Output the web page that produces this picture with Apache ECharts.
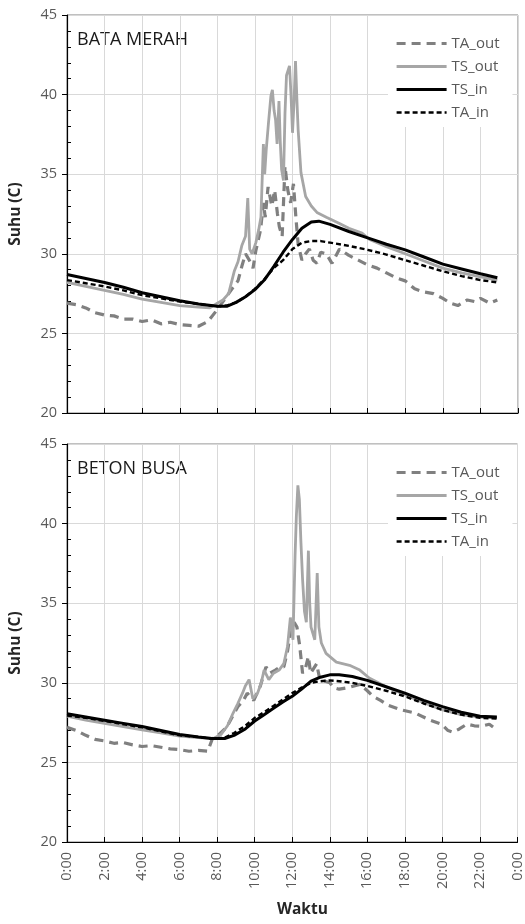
<!DOCTYPE html>
<html>
<head>
<meta charset="utf-8">
<script src="https://cdn.jsdelivr.net/npm/echarts@6/dist/echarts.min.js"></script>
<style>html,body{margin:0;padding:0;background:#fff;}#c{width:525px;height:924px;}</style>
</head>
<body>
<div id="c"></div>
<script>
// ---- Data (hour of day, temperature °C) ----
const seriesNames = ['TA_out', 'TS_out', 'TS_in', 'TA_in'];
const panelTitles = ['BATA MERAH', 'BETON BUSA'];
const xTickHours = [0, 2, 4, 6, 8, 10, 12, 14, 16, 18, 20, 22, 24];
const yTicks = [20, 25, 30, 35, 40, 45];

// BATA MERAH
const bmTAout = [[0,26.9],[0.5,26.8],[1,26.6],[1.5,26.3],[2,26.15],[2.5,26.1],[3,25.9],[3.5,25.9],[4,25.75],[4.5,25.85],[5,25.6],[5.5,25.7],[6,25.55],[6.5,25.5],[7,25.45],[7.5,25.75],[8,26.5],[8.3,27.0],[8.6,27.5],[8.9,28.0],[9.1,28.3],[9.3,29.2],[9.5,30.0],[9.7,29.6],[9.9,29.1],[10.05,30.2],[10.3,31.5],[10.45,33.2],[10.55,32.3],[10.7,34.2],[10.9,33.0],[11.05,34.0],[11.2,32.5],[11.3,31.7],[11.45,31.1],[11.6,35.5],[11.75,34.0],[11.9,33.2],[12.05,34.4],[12.18,32.3],[12.3,30.6],[12.5,29.6],[12.7,30.0],[12.9,30.3],[13.1,29.6],[13.3,29.4],[13.5,30.1],[13.8,30.0],[14.1,29.4],[14.5,30.3],[15,29.9],[15.5,29.6],[16,29.3],[16.5,29.1],[17,28.8],[17.5,28.5],[18,28.3],[18.5,27.8],[19,27.6],[19.5,27.5],[20,27.2],[20.4,26.9],[20.8,26.75],[21.3,27.1],[21.7,27.0],[22,27.2],[22.5,26.9],[22.9,27.1]];
const bmTSout = [[0,28.2],[1,27.95],[2,27.7],[3,27.45],[4,27.15],[5,26.95],[6,26.75],[7,26.65],[7.6,26.6],[8,26.9],[8.3,27.1],[8.6,27.5],[8.9,28.9],[9.1,29.5],[9.3,30.5],[9.5,31.1],[9.62,33.5],[9.72,30.3],[9.85,30.0],[10.05,30.7],[10.2,31.5],[10.32,32.3],[10.45,36.9],[10.52,35.0],[10.6,36.5],[10.72,38.2],[10.85,39.9],[10.93,40.3],[11.02,39.0],[11.1,38.4],[11.18,36.9],[11.28,39.6],[11.35,37.0],[11.42,35.3],[11.52,34.6],[11.6,38.8],[11.68,41.2],[11.76,41.5],[11.84,41.8],[11.92,40.0],[12.0,37.6],[12.08,39.5],[12.16,42.1],[12.24,39.5],[12.3,37.8],[12.45,35.1],[12.7,33.6],[13.0,33.0],[13.3,32.6],[13.8,32.3],[14.5,31.9],[15.0,31.6],[15.7,31.3],[16.1,30.9],[17,30.45],[18,30.0],[19,29.55],[20,29.1],[21,28.8],[22,28.55],[22.9,28.35]];
const bmTSin = [[0,28.7],[1,28.45],[2,28.2],[3,27.9],[4,27.55],[5,27.3],[6,27.05],[7,26.85],[8,26.7],[8.5,26.7],[9,26.95],[9.5,27.3],[10,27.75],[10.5,28.35],[11,29.2],[11.5,30.1],[12,30.9],[12.5,31.6],[13,32.0],[13.4,32.05],[14,31.85],[15,31.4],[16,31.0],[17,30.6],[18,30.25],[19,29.8],[20,29.35],[21,29.05],[22,28.75],[22.9,28.5]];
const bmTAin = [[0,28.35],[1,28.15],[2,27.95],[3,27.7],[4,27.4],[5,27.2],[6,27.0],[7,26.85],[8,26.7],[8.5,26.75],[9,26.95],[9.5,27.3],[10,27.8],[10.5,28.4],[11,29.1],[11.5,29.6],[12,30.3],[12.5,30.7],[13,30.8],[13.5,30.8],[14,30.7],[15,30.5],[16,30.25],[17,29.95],[18,29.6],[19,29.25],[20,28.9],[21,28.6],[22,28.35],[22.9,28.2]];

// BETON BUSA
const bbTAout = [[0,27.2],[0.5,27.0],[1,26.7],[1.5,26.45],[2,26.35],[2.5,26.2],[3,26.25],[3.5,26.1],[4,26.0],[4.5,26.05],[5,25.95],[5.5,25.85],[6,25.8],[6.5,25.7],[7,25.75],[7.5,25.7],[7.75,26.5],[8,26.65],[8.5,27.2],[9.1,28.5],[9.4,28.9],[9.6,29.35],[9.95,28.9],[10.3,29.8],[10.6,31.0],[10.8,30.6],[11.1,30.8],[11.35,31.0],[11.55,31.0],[11.75,32.0],[11.9,33.1],[12.1,33.8],[12.25,33.5],[12.4,32.3],[12.55,30.6],[12.7,30.9],[12.86,31.65],[12.98,30.6],[13.3,31.2],[13.47,30.2],[14.0,30.0],[14.2,29.7],[14.5,29.6],[15.0,29.7],[15.6,29.9],[16.0,29.5],[16.3,29.15],[16.7,28.9],[17.1,28.6],[17.8,28.3],[18.55,28.1],[19.25,27.7],[19.95,27.4],[20.3,27.0],[20.55,26.9],[20.9,27.1],[21.3,27.4],[21.7,27.3],[22.05,27.27],[22.5,27.4],[22.9,27.05]];
const bbTSout = [[0,27.9],[1,27.65],[2,27.45],[3,27.25],[4,27.05],[5,26.85],[6,26.65],[7,26.55],[7.8,26.5],[8.2,26.75],[8.55,27.3],[8.85,28.1],[9.1,28.7],[9.35,29.35],[9.5,29.8],[9.7,30.2],[9.9,29.0],[10.15,29.35],[10.35,30.0],[10.5,30.8],[10.75,30.2],[11.0,30.6],[11.3,30.8],[11.55,31.2],[11.75,32.3],[11.9,34.1],[12.04,32.7],[12.15,38.0],[12.22,40.5],[12.3,42.4],[12.38,41.5],[12.46,38.9],[12.55,36.5],[12.65,34.5],[12.75,33.8],[12.86,38.3],[12.93,35.0],[13.0,33.5],[13.2,32.7],[13.33,36.9],[13.42,33.5],[13.55,32.5],[13.8,31.85],[14.35,31.3],[15.05,31.1],[15.6,30.8],[16.1,30.3],[17,29.75],[18,29.25],[19,28.75],[20,28.3],[21,28.0],[22,27.85],[22.9,27.8]];
const bbTSin = [[0,28.05],[1,27.85],[2,27.65],[3,27.45],[4,27.25],[5,27.0],[6,26.75],[7,26.6],[7.7,26.5],[8.4,26.5],[8.9,26.7],[9.5,27.1],[10,27.6],[10.5,28.0],[11,28.4],[11.5,28.8],[12,29.15],[12.5,29.6],[13,30.1],[13.5,30.35],[14,30.5],[14.5,30.5],[15.2,30.4],[16,30.15],[17,29.75],[18,29.35],[19,28.9],[20,28.5],[21,28.15],[22,27.9],[22.9,27.85]];
const bbTAin = [[0,27.95],[1,27.8],[2,27.6],[3,27.4],[4,27.2],[5,26.95],[6,26.7],[7,26.6],[7.7,26.5],[8.4,26.55],[8.9,26.85],[9.5,27.3],[10,27.8],[10.5,28.15],[11,28.55],[11.5,28.95],[12,29.35],[12.5,29.7],[13,30.0],[13.5,30.1],[14,30.15],[14.5,30.1],[15.2,30.0],[16,29.8],[17,29.5],[18,29.15],[19,28.7],[20,28.3],[21,28.0],[22,27.8],[22.9,27.75]];

const panelData = [
  [bmTAout, bmTSout, bmTSin, bmTAin],
  [bbTAout, bbTSout, bbTSin, bbTAin]
];

// ---- Styles ----
const FONT = 'Open Sans';
const styles = [
  { color: '#808080', width: 3.2, type: [9, 6] },
  { color: '#a6a6a6', width: 2.8, type: 'solid' },
  { color: '#000000', width: 3, type: 'solid' },
  { color: '#000000', width: 2.4, type: [5, 3] }
];
const gridTops = [15, 444];
const GH = 398, GL = 60, GW = 458;

const chart = echarts.init(document.getElementById('c'), null, { renderer: 'canvas' });

const grids = [], xAxes = [], yAxes = [], series = [], legends = [], graphics = [];
gridTops.forEach((top, p) => {
  grids.push({ left: GL, top: top, width: GW, height: GH, show: true, borderColor: '#808080', borderWidth: 1, backgroundColor: 'transparent' });
  xAxes.push({
    type: 'value', gridIndex: p, min: xTickHours[0], max: xTickHours[xTickHours.length - 1], interval: 2,
    axisLine: { show: true, onZero: false, lineStyle: { color: '#000', width: 1.2 } },
    axisTick: { show: true, inside: true, length: 5, lineStyle: { color: '#000' } },
    axisLabel: { show: p === 1, rotate: 90, margin: 10, fontFamily: FONT, fontSize: 14.5, color: '#595959',
      formatter: v => (v % 24) + ':00' },
    splitLine: { show: true, lineStyle: { color: '#d9d9d9', width: 1 } }
  });
  yAxes.push({
    type: 'value', gridIndex: p, min: yTicks[0], max: yTicks[yTicks.length - 1], interval: 5,
    name: 'Suhu (C)', nameLocation: 'middle', nameGap: 43,
    nameTextStyle: { fontFamily: FONT, fontWeight: 'bold', fontSize: 15.5, color: '#262626' },
    axisLine: { show: true, lineStyle: { color: '#000', width: 1.2 } },
    axisTick: { show: true, inside: false, length: 5, lineStyle: { color: '#000' } },
    axisLabel: { show: true, margin: 10, fontFamily: FONT, fontSize: 14.5, color: '#595959' },
    splitLine: { show: true, lineStyle: { color: '#d9d9d9', width: 1 } }
  });
});
// minor ticks (inside)
gridTops.forEach((top, p) => {
  yAxes.push({
    type: 'value', gridIndex: p, position: 'left', min: yTicks[0], max: yTicks[yTicks.length - 1], interval: 5,
    axisLine: { show: false }, axisLabel: { show: false },
    axisTick: { show: false, inside: true },
    minorTick: { show: true, splitNumber: 5, length: 4, lineStyle: { color: '#000' } },
    splitLine: { show: false }
  });
});

panelData.forEach((arrs, p) => {
  arrs.forEach((d, i) => {
    series.push({
      name: seriesNames[i], type: 'line', xAxisIndex: p, yAxisIndex: p, data: d,
      symbol: 'none', smooth: false, animation: false,
      lineStyle: { color: styles[i].color, width: styles[i].width, type: styles[i].type },
      itemStyle: { color: styles[i].color }
    });
  });
  legends.push({
    data: seriesNames.map((n, i) => ({
      name: n,
      lineStyle: { color: styles[i].color, width: styles[i].width, type: styles[i].type }
    })),
    orient: 'vertical', left: 388, top: gridTops[p] + 1,
    padding: [20, 13, 7, 7], itemGap: 8, itemWidth: 50, itemHeight: 14,
    backgroundColor: '#ffffff', selectedMode: false,
    itemStyle: { color: 'rgba(0,0,0,0)', borderColor: 'rgba(0,0,0,0)', borderWidth: 0, opacity: 0 },
    textStyle: { fontFamily: FONT, fontSize: 15, color: '#595959', lineHeight: 14 }
  });
  graphics.push({
    type: 'text', left: 77, top: gridTops[p] + 16,
    style: { text: panelTitles[p], font: '18px "Open Sans"', fill: '#1a1a1a' }
  });
});
graphics.push({
  type: 'text', left: 277, top: 902,
  style: { text: 'Waktu', font: 'bold 15.5px "Open Sans"', fill: '#262626' }
});

chart.setOption({
  animation: false,
  backgroundColor: '#ffffff',
  grid: grids, xAxis: xAxes, yAxis: yAxes, series: series, legend: legends, graphic: graphics
});
</script>
</body>
</html>
